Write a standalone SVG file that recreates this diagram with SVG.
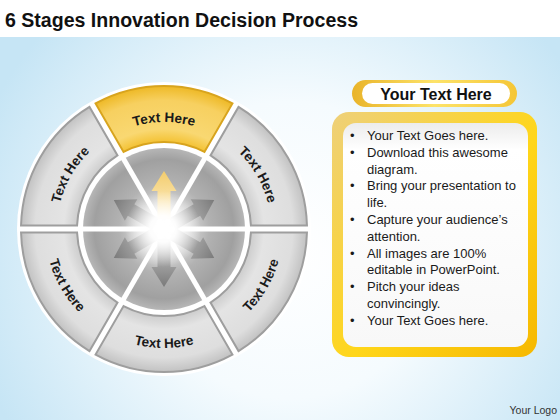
<svg xmlns="http://www.w3.org/2000/svg" width="560" height="420" viewBox="0 0 560 420">
<defs>
  <radialGradient id="bg" gradientUnits="userSpaceOnUse" cx="290" cy="250" r="330">
    <stop offset="0" stop-color="#ffffff"/>
    <stop offset="0.45" stop-color="#f5fbfe"/>
    <stop offset="1" stop-color="#c6e5f5"/>
  </radialGradient>
  <radialGradient id="segGray" gradientUnits="userSpaceOnUse" cx="164" cy="229" r="143">
    <stop offset="0.6" stop-color="#cbcbcb"/>
    <stop offset="0.7" stop-color="#e4e4e4"/>
    <stop offset="0.9" stop-color="#dedede"/>
    <stop offset="1" stop-color="#c2c2c2"/>
  </radialGradient>
  <radialGradient id="segYellow" gradientUnits="userSpaceOnUse" cx="164" cy="229" r="143">
    <stop offset="0.6" stop-color="#f3c02e"/>
    <stop offset="0.7" stop-color="#f9d872"/>
    <stop offset="0.9" stop-color="#f7d060"/>
    <stop offset="1" stop-color="#eeb926"/>
  </radialGradient>
  <radialGradient id="disc" gradientUnits="userSpaceOnUse" cx="164" cy="229" r="82">
    <stop offset="0" stop-color="#ffffff"/>
    <stop offset="0.25" stop-color="#e0e0e0"/>
    <stop offset="0.55" stop-color="#b2b2b2"/>
    <stop offset="0.85" stop-color="#a0a0a0"/>
    <stop offset="1" stop-color="#b8b8b8"/>
  </radialGradient>
  <radialGradient id="glow" gradientUnits="userSpaceOnUse" cx="163" cy="229" r="38">
    <stop offset="0" stop-color="#ffffff" stop-opacity="1"/>
    <stop offset="0.35" stop-color="#ffffff" stop-opacity="0.95"/>
    <stop offset="1" stop-color="#ffffff" stop-opacity="0"/>
  </radialGradient>
  <linearGradient id="arrGray" x1="0" y1="0" x2="1" y2="0">
    <stop offset="0" stop-color="#d6d6d6"/>
    <stop offset="0.5" stop-color="#a2a2a2"/>
    <stop offset="1" stop-color="#7a7a7a"/>
  </linearGradient>
  <linearGradient id="arrYellow" x1="0" y1="0" x2="1" y2="0">
    <stop offset="0" stop-color="#fff2d0"/>
    <stop offset="1" stop-color="#f3cc6c"/>
  </linearGradient>
  <linearGradient id="pill" x1="0" y1="0" x2="1" y2="0">
    <stop offset="0" stop-color="#e9b42a"/>
    <stop offset="0.5" stop-color="#fde36a"/>
    <stop offset="1" stop-color="#f5c636"/>
  </linearGradient>
  <linearGradient id="box" x1="0" y1="0" x2="1" y2="1">
    <stop offset="0" stop-color="#eed07a"/>
    <stop offset="0.55" stop-color="#ffd61a"/>
    <stop offset="1" stop-color="#f6b800"/>
  </linearGradient>
  <linearGradient id="boxIn" x1="0" y1="0" x2="0" y2="1">
    <stop offset="0" stop-color="#ececec"/>
    <stop offset="0.12" stop-color="#ffffff"/>
    <stop offset="1" stop-color="#f8f8f8"/>
  </linearGradient>
  <path id="seg" d="M95.55,103.45 A143,143 0 0 1 232.45,103.45 L204.43,151.96 A87,87 0 0 0 123.57,151.96 Z"/>
  <path id="arrow" d="M10,-6.5 L38,-6.5 L38,-12.5 L58,0 L38,12.5 L38,6.5 L10,6.5 Z"/>
  <path id="tpUL" d="M57.41,238.33 A107,107 0 0 1 118.78,132.03"/>
  <path id="tpT" d="M102.63,141.35 A107,107 0 0 1 225.37,141.35"/>
  <path id="tpUR" d="M209.22,132.03 A107,107 0 0 1 270.59,238.33"/>
  <path id="tpLR" d="M214.29,336.85 A119,119 0 0 0 282.55,218.63"/>
  <path id="tpB" d="M95.74,326.48 A119,119 0 0 0 232.26,326.48"/>
  <path id="tpLL" d="M45.45,218.63 A119,119 0 0 0 113.71,336.85"/>
</defs>
<style>
  .title{font-family:"Liberation Sans",Arial,sans-serif;font-weight:bold;font-size:20px;fill:#111}
  .seglabel{font-family:"Liberation Sans",Arial,sans-serif;font-weight:bold;font-size:13.5px;fill:#1a1a1a}
  .segG{fill:url(#segGray);stroke:#9e9e9e;stroke-width:2}
  .segY{fill:url(#segYellow);stroke:#d8a41e;stroke-width:2}
  .body{font-family:"Liberation Sans",Arial,sans-serif;font-size:13px;fill:#1a1a1a}
  .head{font-family:"Liberation Sans",Arial,sans-serif;font-weight:bold;font-size:16px;fill:#111}
  .logo{font-family:"Liberation Sans",Arial,sans-serif;font-size:10.5px;fill:#333}
</style>

<rect x="0" y="0" width="560" height="420" fill="#ffffff"/>
<rect x="0" y="37" width="560" height="383" fill="url(#bg)"/>

<text class="title" x="5" y="27" textLength="353" lengthAdjust="spacingAndGlyphs">6 Stages Innovation Decision Process</text>

<g id="hub">
  <circle cx="164" cy="229" r="147" fill="#ffffff"/>
  <circle cx="164" cy="229" r="81" fill="url(#disc)"/>
  <g stroke="#ffffff" stroke-width="5">
    <line x1="164" y1="229" x2="254" y2="229"/>
    <line x1="164" y1="229" x2="74" y2="229"/>
    <line x1="164" y1="229" x2="209" y2="151"/>
    <line x1="164" y1="229" x2="119" y2="151"/>
    <line x1="164" y1="229" x2="209" y2="307"/>
    <line x1="164" y1="229" x2="119" y2="307"/>
  </g>
</g>

<g id="hub-arrows">
  <use href="#arrow" fill="url(#arrGray)" transform="translate(164,229) rotate(-30)"/>
  <use href="#arrow" fill="url(#arrGray)" transform="translate(164,229) rotate(30)"/>
  <use href="#arrow" fill="url(#arrGray)" transform="translate(164,229) rotate(90)"/>
  <use href="#arrow" fill="url(#arrGray)" transform="translate(164,229) rotate(150)"/>
  <use href="#arrow" fill="url(#arrGray)" transform="translate(164,229) rotate(-150)"/>
  <use href="#arrow" fill="url(#arrYellow)" transform="translate(164,229) rotate(-90)"/>
  <circle cx="163" cy="229" r="38" fill="url(#glow)"/>
</g>

<g id="stage-top">
  <use href="#seg" class="segY"/>
  <text class="seglabel"><textPath href="#tpT" startOffset="50%" text-anchor="middle">Text Here</textPath></text>
</g>
<g id="stage-upper-right">
  <use href="#seg" class="segG" transform="rotate(60 164 229)"/>
  <text class="seglabel"><textPath href="#tpUR" startOffset="50%" text-anchor="middle">Text Here</textPath></text>
</g>
<g id="stage-lower-right">
  <use href="#seg" class="segG" transform="rotate(120 164 229)"/>
  <text class="seglabel"><textPath href="#tpLR" startOffset="50%" text-anchor="middle">Text Here</textPath></text>
</g>
<g id="stage-bottom">
  <use href="#seg" class="segG" transform="rotate(180 164 229)"/>
  <text class="seglabel"><textPath href="#tpB" startOffset="50%" text-anchor="middle">Text Here</textPath></text>
</g>
<g id="stage-lower-left">
  <use href="#seg" class="segG" transform="rotate(240 164 229)"/>
  <text class="seglabel"><textPath href="#tpLL" startOffset="50%" text-anchor="middle">Text Here</textPath></text>
</g>
<g id="stage-upper-left">
  <use href="#seg" class="segG" transform="rotate(300 164 229)"/>
  <text class="seglabel"><textPath href="#tpUL" startOffset="50%" text-anchor="middle">Text Here</textPath></text>
</g>

<g id="heading">
  <rect x="352" y="80" width="165" height="27" rx="13.5" fill="url(#pill)"/>
  <rect x="362" y="83" width="148" height="21" rx="10.5" fill="#ffffff"/>
  <text class="head" x="436" y="100" text-anchor="middle">Your Text Here</text>
</g>

<g id="text-box">
  <rect x="332" y="112" width="205" height="245" rx="17" fill="url(#box)"/>
  <rect x="343" y="123" width="185" height="224" rx="13" fill="url(#boxIn)"/>
  <g class="body">
    <text x="350" y="140">•</text><text x="367" y="140">Your Text Goes here.</text>
    <text x="350" y="156.8">•</text><text x="367" y="156.8">Download this awesome</text>
    <text x="367" y="173.6">diagram.</text>
    <text x="350" y="190.4">•</text><text x="367" y="190.4">Bring your presentation to</text>
    <text x="367" y="207.2">life.</text>
    <text x="350" y="224">•</text><text x="367" y="224">Capture your audience’s</text>
    <text x="367" y="240.8">attention.</text>
    <text x="350" y="257.6">•</text><text x="367" y="257.6">All images are 100%</text>
    <text x="367" y="274.4">editable in PowerPoint.</text>
    <text x="350" y="291.2">•</text><text x="367" y="291.2">Pitch your ideas</text>
    <text x="367" y="308">convincingly.</text>
    <text x="350" y="324.8">•</text><text x="367" y="324.8">Your Text Goes here.</text>
  </g>
</g>

<text class="logo" x="557" y="414" text-anchor="end">Your Logo</text>
</svg>
